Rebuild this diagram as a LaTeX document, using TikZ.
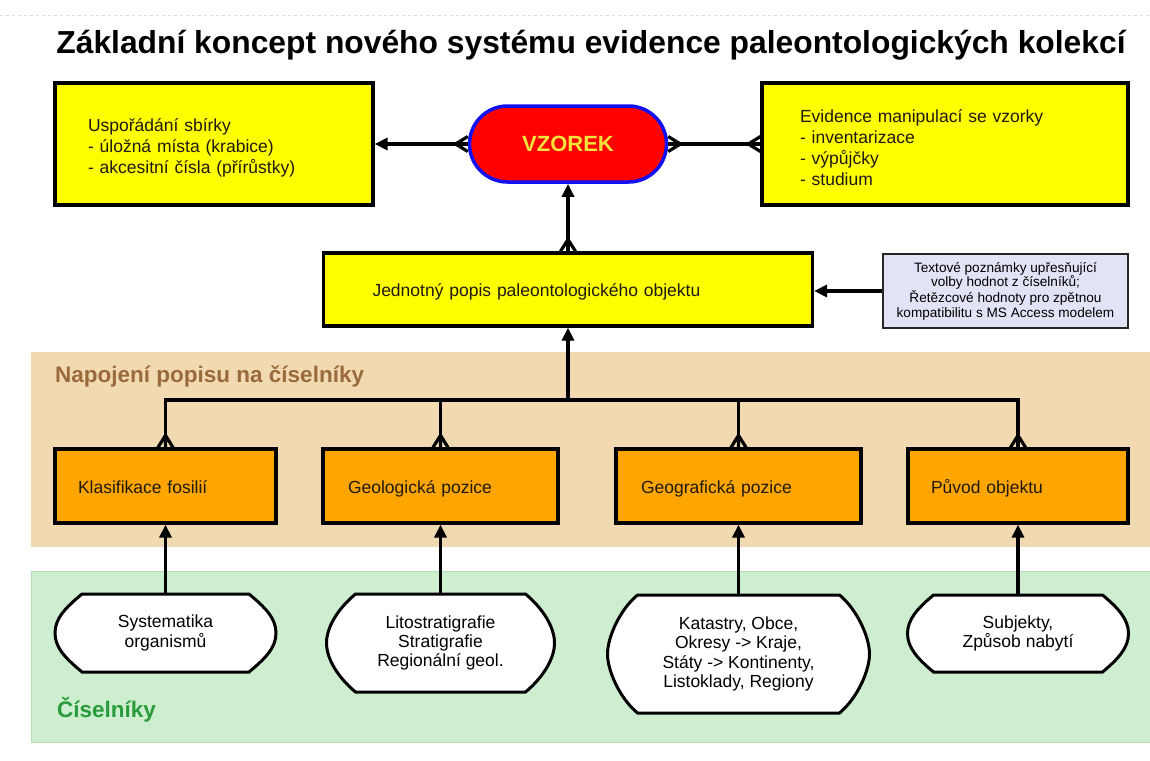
\documentclass[tikz,border=0pt]{standalone}
\usepackage{fontspec}
\setmainfont{Liberation Sans}
\usetikzlibrary{arrows.meta,calc}
\definecolor{boxyellow}{HTML}{FFFF00}
\definecolor{boxorange}{HTML}{FFA500}
\definecolor{tanband}{HTML}{F1DAB2}
\definecolor{greenband}{HTML}{CDEFD0}
\definecolor{greenedge}{HTML}{B4DDB8}
\definecolor{brownlabel}{HTML}{9A6A3A}
\definecolor{greenlabel}{HTML}{2A9A3C}
\definecolor{notefill}{HTML}{E3E3F7}
\definecolor{vzred}{HTML}{FF0000}
\definecolor{vzblue}{HTML}{1010F0}
\definecolor{vzyellow}{HTML}{F2E43A}
\definecolor{textdark}{HTML}{1E1A10}
\pgfdeclarearrow{
  name = Crow,
  parameters = {},
  setup code = {},
  drawing code = {
    \pgfsetroundjoin
    \pgfsetbuttcap
    \pgfpathmoveto{\pgfqpoint{-12pt}{0pt}}
    \pgfpathlineto{\pgfqpoint{0pt}{7.5pt}}
    \pgfpathmoveto{\pgfqpoint{-12pt}{0pt}}
    \pgfpathlineto{\pgfqpoint{0pt}{-7.5pt}}
    \pgfpathmoveto{\pgfqpoint{-12pt}{0pt}}
    \pgfpathlineto{\pgfqpoint{0pt}{0pt}}
    \pgfusepathqstroke
  }
}
\pgfdeclarelayer{bg}
\pgfdeclarelayer{mid}
\pgfsetlayers{bg,mid,main}
\newcommand\vpush{\rule{0pt}{21pt}}
\newcommand\cutshape[2]{%
  \path[shp] ($(#1.north west)+(#2,0)$) -- ($(#1.north east)+(-#2,0)$)
    .. controls ($(#1.north east)+(-0.4*#2,0.5*#2)$) and ($(#1.east)+(0,-0.55*#2)$) .. (#1.east)
    .. controls ($(#1.east)+(0,0.55*#2)$) and ($(#1.south east)+(-0.4*#2,-0.5*#2)$) .. ($(#1.south east)+(-#2,0)$)
    -- ($(#1.south west)+(#2,0)$)
    .. controls ($(#1.south west)+(0.4*#2,-0.5*#2)$) and ($(#1.west)+(0,0.55*#2)$) .. (#1.west)
    .. controls ($(#1.west)+(0,-0.55*#2)$) and ($(#1.north west)+(0.4*#2,0.5*#2)$) .. cycle;}
\tikzset{
  Tri/.tip={Triangle[length=13pt,width=12pt]},
  conn/.style={line width=3.2pt},
  bodyfont/.style={font=\fontsize{17.5}{21}\selectfont},
  ybox/.style={draw, line width=3.2pt, fill=boxyellow, align=left, inner ysep=0pt,
    text=textdark, bodyfont},
  oneline/.style={text height=17pt, text depth=3pt},
  obox/.style={draw, line width=3.2pt, fill=boxorange, align=left, inner ysep=0pt,
    minimum height=74pt, text=textdark, bodyfont, oneline},
  shapetext/.style={align=center, inner sep=0pt, outer sep=0pt,
    font=\fontsize{17.5}{19.3}\selectfont},
  shp/.style={draw, line width=3pt, fill=white},
  bandlabel/.style={anchor=west, font=\fontsize{22.5}{26}\selectfont\bfseries, inner sep=0pt},
}
\begin{document}
\begin{tikzpicture}[x=1pt, y=-1pt]
\useasboundingbox (0,0) rectangle (1150,760);
% bands
\begin{pgfonlayer}{bg}
  \fill[white] (0,0) rectangle (1150,760);
  \draw[gray!25, dashed, line width=0.6pt] (0,15) -- (1150,15);
  \fill[tanband] (31,352) rectangle (1150,547);
  \draw[greenedge, fill=greenband, line width=1pt] (31,571) rectangle (1152,742);
\end{pgfonlayer}

% title
\node[anchor=base, inner sep=0pt, font=\fontsize{31.8}{36}\selectfont\bfseries] (title) at (591,54)
  {Základní koncept nového systému evidence paleontologických kolekcí};

% top row
\node[ybox, minimum width=318pt, minimum height=122pt, inner xsep=33pt, text width=252pt] (us) at (214,144)
  {\vpush Uspořádání sbírky\\- úložná místa (krabice)\\- akcesitní čísla (přírůstky)};
\node[draw=vzblue, line width=3.5pt, fill=vzred, rounded corners=38pt, minimum width=197pt,
  minimum height=76pt, inner sep=0pt, text=vzyellow, font=\fontsize{22}{26}\selectfont\bfseries] (vz) at (568,144) {VZOREK};
\node[ybox, minimum width=366pt, minimum height=122pt, inner xsep=38pt, text width=290pt] (ev) at (945,144)
  {\vpush Evidence manipulací se vzorky\\- inventarizace\\- výpůjčky\\- studium};

% middle
\node[ybox, oneline, minimum width=489pt, minimum height=73pt, inner xsep=49pt, text width=391pt] (jp) at (568,289.5)
  {Jednotný popis paleontologického objektu};
\node[draw=black!85, line width=2.2pt, fill=notefill, minimum width=245pt, minimum height=74pt, inner sep=0pt,
  align=center, font=\fontsize{13.6}{14.6}\selectfont] (note) at (1005.5,291)
  {Textové poznámky upřesňující\\volby hodnot z číselníků;\\Řetězcové hodnoty pro zpětnou\\kompatibilitu s MS Access modelem};

% band labels
\node[bandlabel, text=brownlabel] (nap) at (55,376) {Napojení popisu na číselníky};
\node[bandlabel, text=greenlabel] (cis) at (57,710) {Číselníky};

% orange boxes
\node[obox, minimum width=221pt, inner xsep=23pt, text width=175pt] (k1) at (165.5,486) {Klasifikace fosilií};
\node[obox, minimum width=235pt, inner xsep=25pt, text width=185pt] (k2) at (440.5,486) {Geologická pozice};
\node[obox, minimum width=245pt, inner xsep=25pt, text width=195pt] (k3) at (738.5,486) {Geografická pozice};
\node[obox, minimum width=220pt, inner xsep=23pt, text width=174pt] (k4) at (1018,486) {Původ objektu};

% white shapes
\node[shapetext, minimum width=221pt, minimum height=78pt] (s1) at (165.5,633) {Systematika\\organismů};
\node[shapetext, minimum width=228pt, minimum height=98pt] (s2) at (440.5,643) {Litostratigrafie\\Stratigrafie\\Regionální geol.};
\node[shapetext, minimum width=262pt, minimum height=118pt] (s3) at (738.5,654) {Katastry, Obce,\\Okresy -> Kraje,\\Státy -> Kontinenty,\\Listoklady, Regiony};
\node[shapetext, minimum width=221pt, minimum height=77pt] (s4) at (1018,633.5) {Subjekty,\\Způsob nabytí};
\begin{pgfonlayer}{mid}
  \cutshape{s1}{27}
  \cutshape{s2}{29}
  \cutshape{s3}{30}
  \cutshape{s4}{26}
\end{pgfonlayer}

% connectors
\draw[conn, Crow-Tri] (vz.west) -- (us.east);
\draw[conn, Crow-Crow] (vz.east) -- (ev.west);
\draw[conn, Crow-Tri] (jp.north) -- (vz.south);
\draw[conn, -Tri] (note.west) -- (note.west -| jp.east);
\coordinate (bus) at (568,400);
\draw[conn, -Tri] (bus) -- (jp.south);
\draw[conn, Crow-Crow] (k1.north) |- (bus) -| (k4.north);
\draw[conn, Crow-] (k2.north) -- (k2.north |- bus);
\draw[conn, Crow-] (k3.north) -- (k3.north |- bus);
\draw[conn, -Tri] (s1.north) -- (k1.south);
\draw[conn, -Tri] (s2.north) -- (k2.south);
\draw[conn, -Tri] (s3.north) -- (k3.south);
\draw[conn, -Tri] (s4.north) -- (k4.south);
\end{tikzpicture}
\end{document}
